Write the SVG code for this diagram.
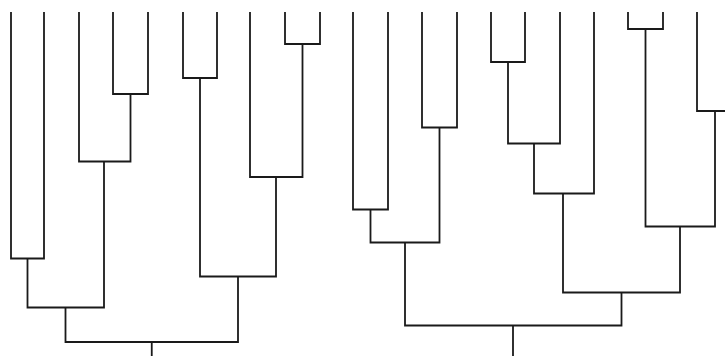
<svg xmlns="http://www.w3.org/2000/svg" width="725" height="356" viewBox="0 0 725 356">
<style>
.l{fill:none;stroke:#1a1a1a;stroke-width:1.8;stroke-linecap:butt;stroke-linejoin:miter}
</style>
<rect width="725" height="356" fill="#fff"/>
<g id="connectors" class="l">
<g id="left-tree">
<path id="m-de" d="M113 12V94H148V12"/>
<path id="m-c-de" d="M79 12V161.5H130.5V94"/>
<path id="m-ab" d="M11 12V258.5H44V12"/>
<path id="m-ab-cde" d="M27.5 258.5V307.5H104V161.5"/>
<path id="m-fg" d="M183 12V78H217V12"/>
<path id="m-ij" d="M285 12V44H320V12"/>
<path id="m-h-ij" d="M250 12V177H302.5V44"/>
<path id="m-fg-hij" d="M200 78V276.5H276V177"/>
<path id="m-left-root" d="M65.5 307.5V342H238V276.5"/>
<path id="stem-left" d="M151.75 342V356"/>
</g>
<g id="right-tree">
<path id="m-kl" d="M353 12V209.5H388V12"/>
<path id="m-mn" d="M422 12V127.5H457V12"/>
<path id="m-kl-mn" d="M370.5 209.5V242.5H439.5V127.5"/>
<path id="m-op" d="M491 12V62H525V12"/>
<path id="m-op-q" d="M508 62V143.5H560V12"/>
<path id="m-opq-r" d="M534 143.5V193.5H594V12"/>
<path id="m-st" d="M628 12V29H663V12"/>
<path id="m-uv" d="M697 12V111H733V12"/>
<path id="m-st-uv" d="M645.5 29V226.5H715V111"/>
<path id="m-opqr-stuv" d="M563 193.5V292.5H680V226.5"/>
<path id="m-right-root" d="M405 242.5V325.5H621.5V292.5"/>
<path id="stem-right" d="M513 325.5V356"/>
</g>
</g>
</svg>
